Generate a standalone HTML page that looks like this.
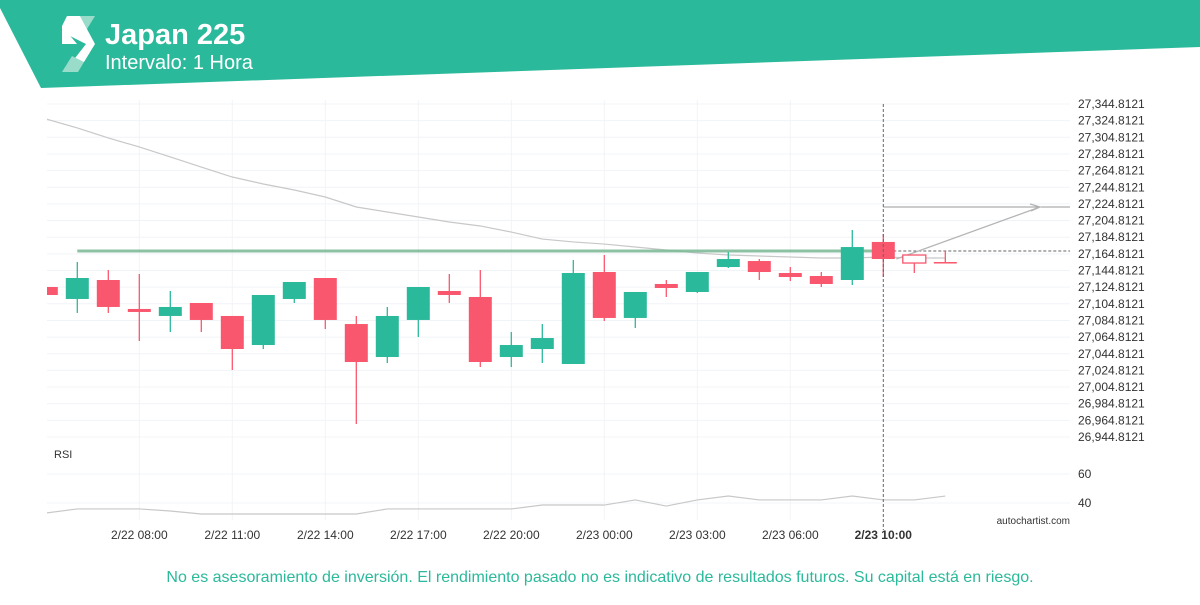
<!DOCTYPE html>
<html><head><meta charset="utf-8"><style>
body{margin:0;background:#fff;width:1200px;height:600px;overflow:hidden;font-family:"Liberation Sans",sans-serif}
</style></head><body>
<svg id="c" width="1200" height="600" xmlns="http://www.w3.org/2000/svg">
<polygon points="0,0 1200,0 1200,47 41,88 0,8" fill="#2bb99b"/>
<g>
<polygon points="80,16 95,16 87,29" fill="#9adcca"/>
<polygon points="67,16 80,16 95,44 84,62 72,62 86,44 62,32 62,26" fill="#fff"/>
<polygon points="62,26 77,44 62,44" fill="#fff"/>
<polygon points="62,72 72,56 84,62 78,72" fill="#9adcca"/>
</g>
<text x="105" y="44" font-size="29" font-weight="bold" fill="#fff">Japan 225</text>
<text x="105" y="69" font-size="20" fill="#fff">Intervalo: 1 Hora</text>
<g id="grid"></g>
<g id="plot"></g>
<text x="54" y="458" font-size="11" fill="#333">RSI</text>
<text x="1070" y="524" font-size="10" fill="#333" text-anchor="end">autochartist.com</text>
<text x="600" y="582" font-size="16" fill="#2bb99b" text-anchor="middle">No es asesoramiento de inversión. El rendimiento pasado no es indicativo de resultados futuros. Su capital está en riesgo.</text>
</svg>
<script>
const opens=[27125.0,27110.6,27133.4,27098.6,27090.2,27105.8,27090.2,27055.3,27110.6,27135.8,27080.5,27040.9,27085.4,27120.2,27113.0,27040.9,27050.5,27032.5,27143.0,27087.8,27128.6,27119.0,27149.0,27156.2,27141.8,27138.2,27133.4,27179.1,27163.4,27155.0];
const highs=[27125.0,27155.0,27145.4,27140.6,27120.2,27105.8,27090.2,27115.4,27131.0,27135.8,27090.2,27101.0,27125.0,27140.6,27145.4,27070.9,27080.5,27157.4,27163.4,27119.0,27133.4,27143.0,27167.0,27158.6,27149.0,27143.0,27193.5,27188.7,27163.4,27168.2];
const lows=[27115.4,27093.8,27093.8,27060.1,27070.9,27070.9,27025.3,27050.5,27105.8,27074.5,26960.4,27033.7,27064.9,27105.8,27028.9,27028.9,27033.7,27032.5,27084.2,27075.7,27113.0,27117.8,27147.8,27133.4,27132.2,27125.0,27127.4,27137.0,27141.8,27155.0];
const closes=[27115.4,27135.8,27101.0,27095.0,27101.0,27085.4,27050.5,27115.4,27131.0,27085.4,27034.9,27090.2,27125.0,27115.4,27034.9,27055.3,27063.7,27141.8,27087.8,27119.0,27123.8,27143.0,27158.6,27143.0,27137.0,27128.6,27173.0,27158.6,27153.8,27155.0];
const ma=[27326.8,27316.0,27304.0,27293.2,27281.2,27269.1,27257.1,27248.7,27241.5,27233.1,27221.1,27215.1,27209.1,27203.1,27198.3,27191.0,27182.6,27179.1,27176.6,27173.0,27169.4,27165.8,27163.4,27162.2,27161.0,27159.8,27159.8,27161.0,27159.8,27159.8];
const rsi=[33.1,35.9,35.9,35.9,34.5,32.4,32.4,32.4,32.4,32.4,32.4,35.9,35.9,35.9,35.9,35.9,38.6,38.6,38.6,42.1,37.9,42.1,44.8,42.1,42.1,42.1,44.8,42.1,42.1,44.8];
const timeLabels=["2/22 08:00","2/22 11:00","2/22 14:00","2/22 17:00","2/22 20:00","2/23 00:00","2/23 03:00","2/23 06:00"];
const timeIdx=[3,6,9,12,15,18,21,24];
const priceTop=27344.8121, priceStep=20, priceTicks=21;
const supportLevel=27168.2, targetLevel=27221.1;
const rsiTicks=[60,40];

const NS="http://www.w3.org/2000/svg";
const X=i=>46.3+31*i;
const Y=v=>104+(priceTop-v)*0.8325;
const R=v=>503-(v-40)*1.45;
function mk(tag,attrs,parent){const e=document.createElementNS(NS,tag);for(const k in attrs)e.setAttribute(k,attrs[k]);parent.appendChild(e);return e;}
const grid=document.getElementById('grid'),plot=document.getElementById('plot');
const defs=mk('defs',{},plot);const cp=mk('clipPath',{id:'cl'},defs);mk('rect',{x:47,y:100,width:1023,height:440},cp);
for(let k=0;k<priceTicks;k++){const v=priceTop-k*priceStep;const y=Y(v);
 const l=mk('line',{x1:47,x2:1070,y1:y,y2:y,stroke:'#f1f4f7'},grid);
 
 
 const t=mk('text',{x:1078,y:y+4,'font-size':12,fill:'#333'},grid);t.textContent=v.toLocaleString('en-US',{minimumFractionDigits:4});
 
 }
rsiTicks.forEach(v=>{const y=R(v);const l=mk('line',{x1:47,x2:1070,y1:y,y2:y,stroke:'#f1f4f7'},grid);
 
 
 const t=mk('text',{x:1078,y:y+4,'font-size':12,fill:'#333'},grid);t.textContent=v;
 
 });
timeIdx.forEach((ix,k)=>{const x=X(ix);const l=mk('line',{x1:x,x2:x,y1:100,y2:520,stroke:'#f1f4f7'},grid);
 
 
 const t=mk('text',{x:x,y:539,'font-size':12,fill:'#333','text-anchor':'middle'},grid);t.textContent=timeLabels[k];
 
 });
const g=mk('g',{'clip-path':'url(#cl)'},plot);
const mal=mk('polyline',{points:ma.map((v,i)=>X(i)+','+Y(v)).join(' '),fill:'none',stroke:'#c8c8c8','stroke-width':1.2},g);


const sy=Y(supportLevel);
const sl=mk('line',{x1:X(1),x2:X(27),y1:sy,y2:sy,stroke:'#79b893','stroke-width':3,opacity:0.85},g);


const sd=mk('line',{x1:X(27),x2:1070,y1:sy,y2:sy,stroke:'#666','stroke-dasharray':'3,2'},g);


const ty=Y(targetLevel);
const tl=mk('line',{x1:X(27),x2:1070,y1:ty,y2:ty,stroke:'#999'},g);


const ar=mk('path',{d:`M${X(28)-18},${Y(closes[27])} L1040,${ty} M1030,${ty-3} L1040,${ty} L1031,${ty+4}`,fill:'none',stroke:'#b5b5b5','stroke-width':1.3},g);


for(let i=0;i<opens.length;i++){const up=closes[i]>opens[i];const col=up?'#2bb99b':'#f9576d';const x=X(i);
 const w=mk('line',{x1:x,x2:x,y1:Y(highs[i]),y2:Y(lows[i]),stroke:col,'stroke-width':1.3},g);
 
 
 const top=Y(Math.max(opens[i],closes[i])),h=Math.max(1.5,Math.abs(Y(opens[i])-Y(closes[i])));
 const hollow=i===28;
 const b=mk('rect',{x:x-11.5,y:top,width:23,height:h,fill:hollow?'#fff':col,stroke:hollow?col:'none','stroke-width':1.3},g);
 
 }
const rl=mk('polyline',{points:rsi.map((v,i)=>X(i)+','+R(v)).join(' '),fill:'none',stroke:'#c8c8c8','stroke-width':1.2},g);


const vx=X(27);
const vl=mk('line',{x1:vx,x2:vx,y1:104,y2:530,stroke:'#666','stroke-dasharray':'3,2'},plot);


const cl=mk('text',{x:vx,y:539,'font-size':12,'font-weight':'bold',fill:'#333','text-anchor':'middle'},plot);cl.textContent='2/23 10:00';


</script>
</body></html>
